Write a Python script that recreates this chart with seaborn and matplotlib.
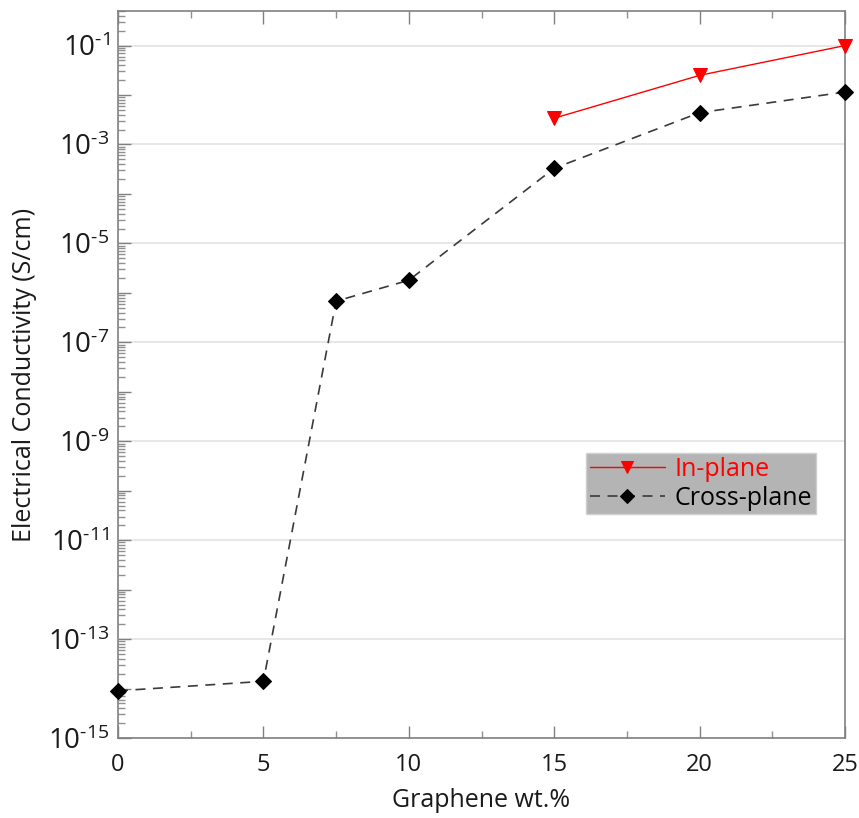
import numpy as np
import pandas as pd
import matplotlib
matplotlib.use("Agg")
import matplotlib.pyplot as plt
import matplotlib.ticker as mticker
import seaborn as sns

# Data
cross_x = [0, 5, 7.5, 10, 15, 20, 25]
cross_y = [9.0e-15, 1.4e-14, 6.8e-7, 1.8e-6, 3.3e-4, 4.4e-3, 1.15e-2]
inplane_x = [15, 20, 25]
inplane_y = [3.4e-3, 2.5e-2, 1.0e-1]
x_ticks = [0, 5, 10, 15, 20, 25]
y_label_exps = [-1, -3, -5, -7, -9, -11, -13, -15]

sns.set_theme(style="white")
plt.rcParams['font.family'] = ['Open Sans', 'DejaVu Sans']
plt.rcParams['mathtext.fontset'] = 'custom'
plt.rcParams['mathtext.rm'] = 'Open Sans'
plt.rcParams['mathtext.it'] = 'Open Sans'

fig = plt.figure(figsize=(8.59, 8.18), dpi=100)
ax = fig.add_axes([118/859, 1-738/818, (845-118)/859, (738-11)/818])

df_c = pd.DataFrame({"x": cross_x, "y": cross_y})
df_i = pd.DataFrame({"x": inplane_x, "y": inplane_y})

sns.lineplot(data=df_i, x="x", y="y", ax=ax, color="red", marker="v",
             markersize=10.5, markeredgecolor="red", linewidth=1.0,
             label="In-plane", zorder=4, clip_on=False)
sns.lineplot(data=df_c, x="x", y="y", ax=ax, color="#3a3a3a", marker="D",
             markersize=8.5, markeredgecolor="black", markerfacecolor="black",
             linewidth=1.2, linestyle=(0, (6, 4.5)), label="Cross-plane", zorder=3,
             clip_on=False)

ax.set_yscale("log")
ax.set_xlim(0, 25)
ax.set_ylim(1e-15, 0.5)

for e in y_label_exps:
    ax.axhline(10.0**e, color="#e3e3e3", linewidth=1.2, zorder=0)

ax.set_xticks(x_ticks)
ax.xaxis.set_minor_locator(mticker.MultipleLocator(2.5))
ax.yaxis.set_major_locator(mticker.FixedLocator([10.0**e for e in range(-15, 0)]))
ax.yaxis.set_minor_locator(mticker.FixedLocator(
    [m * 10.0**e for e in range(-15, 0) for m in range(2, 10)]))

def yfmt(v, pos):
    e = int(round(np.log10(v)))
    if e in y_label_exps:
        return r"$10^{\text{-}%d}$" % (-e)
    return ""
ax.yaxis.set_major_formatter(mticker.FuncFormatter(yfmt))
ax.yaxis.set_minor_formatter(mticker.NullFormatter())

ax.tick_params(axis="both", which="major", direction="in", length=9, width=1,
               color="#808080", labelsize=17, labelcolor="#1a1a1a", pad=11,
               left=True, bottom=True)
ax.tick_params(axis="both", which="minor", direction="in", length=5, width=1,
               color="#909090", left=True, bottom=True)
ax.tick_params(axis="x", which="both", top=True)
ax.tick_params(axis="y", which="major", labelsize=20, pad=6)

for s in ax.spines.values():
    s.set_color("#808080")
    s.set_linewidth(1.2)
    s.set_visible(True)

ax.set_xlabel("Graphene wt.%", fontsize=18, color="#1a1a1a", labelpad=8)
ax.set_ylabel("Electrical Conductivity (S/cm)", fontsize=18, color="#1a1a1a", labelpad=8)

leg = ax.legend(loc="upper left", bbox_to_anchor=((586-118)/727, 1-(453-11)/727),
                frameon=True, fancybox=False, framealpha=1, facecolor="#b4b4b4",
                edgecolor="#d0d0d0", fontsize=18, numpoints=1, handlelength=3.0,
                handletextpad=0.4, borderpad=0.15, labelspacing=0.15,
                borderaxespad=0, labelcolor=["red", "black"], markerscale=0.8)

fig.savefig("out.png", dpi=100)
